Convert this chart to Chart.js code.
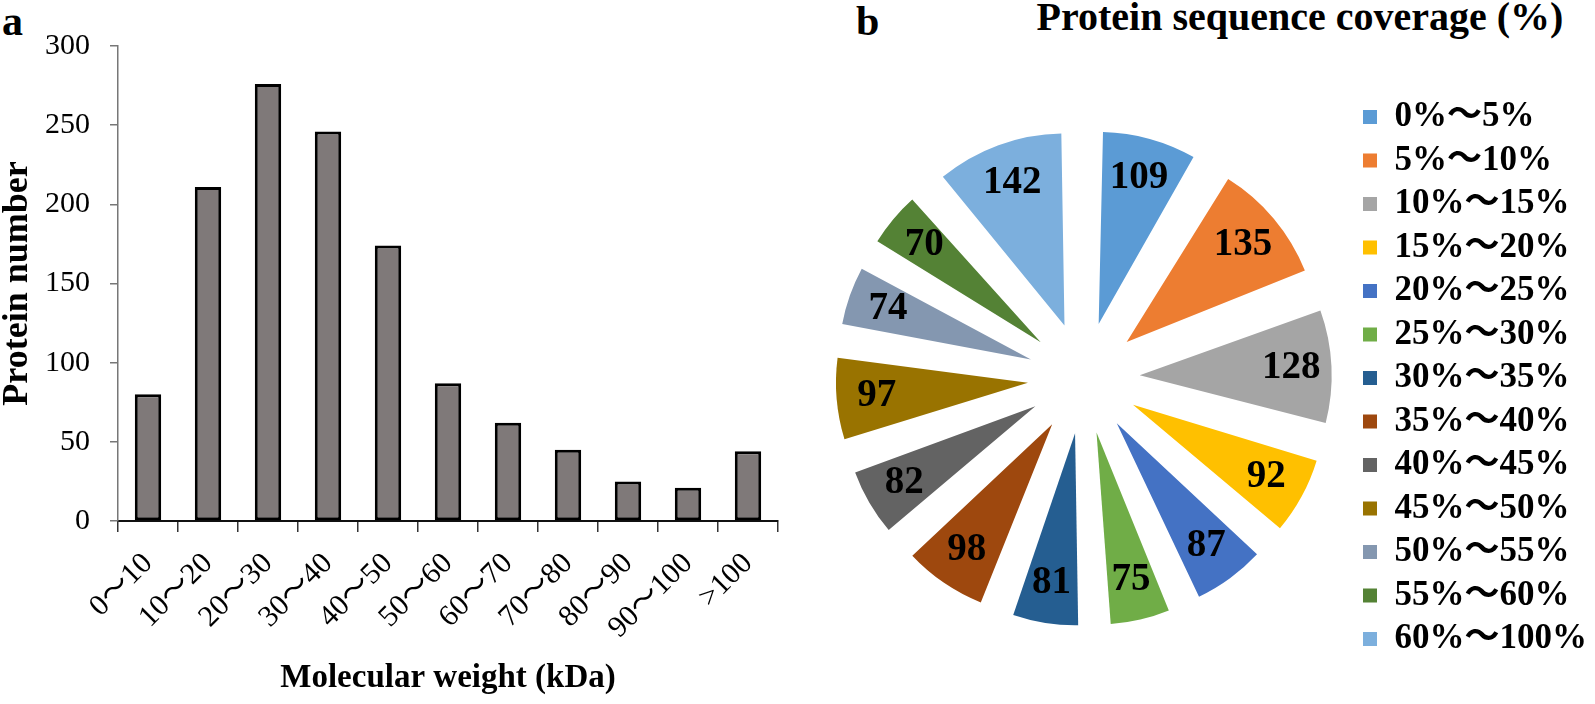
<!DOCTYPE html>
<html>
<head>
<meta charset="utf-8">
<script src="https://cdn.jsdelivr.net/npm/chart.js@4.4.1/dist/chart.umd.min.js"></script>
<style>
  html, body { margin:0; padding:0; background:#fff; overflow:hidden; }
  body { width:1595px; height:704px; position:relative; font-family:"Liberation Serif","Noto Sans CJK SC",serif; color:#000; }
  .tag { position:absolute; top:0; font-weight:bold; font-size:42px; line-height:1; }
  #bar { position:absolute; left:0; top:0; }
  #pie { position:absolute; left:800px; top:0; }
  #pieTitle { position:absolute; left:1000px; width:600px; top:-3px; text-align:center; font-size:40px; font-weight:bold; line-height:1; white-space:nowrap; }
</style>
</head>
<body>
<div class="tag" style="left:2px">a</div>
<div class="tag" style="left:856px">b</div>
<div id="pieTitle">Protein sequence coverage (%)</div>
<canvas id="bar" width="800" height="704"></canvas>
<canvas id="pie" width="797" height="704"></canvas>
<script>
const serif = "'Liberation Serif', 'Noto Sans CJK SC', serif";

// panel a: molecular weight distribution
const mwLabels = ['0～10', '10～20', '20～30', '30～40', '40～50', '50～60', '60～70', '70～80', '80～90', '90～100', '>100'];
const proteinCounts = [80, 211, 276, 246, 174, 87, 62, 45, 25, 21, 44];

// panel b: sequence coverage
const coverageLabels = ['0%～5%', '5%～10%', '10%～15%', '15%～20%', '20%～25%', '25%～30%', '30%～35%',
  '35%～40%', '40%～45%', '45%～50%', '50%～55%', '55%～60%', '60%～100%'];
const coverageCounts = [109, 135, 128, 92, 87, 75, 81, 98, 82, 97, 74, 70, 142];
const coverageColors = ['#5b9bd5', '#ed7d31', '#a5a5a5', '#ffc000', '#4472c4', '#70ad47', '#255e91',
  '#9e480e', '#636363', '#997300', '#8497b0', '#548235', '#7cafdd'];

new Chart(document.getElementById('bar'), {
  type: 'bar',
  data: {
    labels: mwLabels,
    datasets: [{
      data: proteinCounts,
      backgroundColor: '#7f7979',
      borderColor: '#000',
      borderWidth: 3,
      borderSkipped: false,
      barPercentage: 0.44,
      categoryPercentage: 1
    }]
  },
  options: {
    responsive: false,
    animation: false,
    layout: { padding: { top: 46, right: 22, left: 0, bottom: 0 } },
    plugins: { legend: { display: false }, tooltip: { enabled: false } },
    scales: {
      x: {
        grid: { drawOnChartArea: false, tickLength: 11, color: '#333', lineWidth: 1.5, offset: true },
        border: { color: '#111', width: 2 },
        ticks: { color: '#000', font: { family: serif, size: 30 }, minRotation: 45, maxRotation: 45, autoSkip: false, padding: 14 },
        title: { display: true, text: 'Molecular weight (kDa)', color: '#000',
                 font: { family: serif, size: 33, weight: 'bold' }, padding: { top: 4, bottom: 6 } },
        afterFit: s => { s.height = 183; }
      },
      y: {
        min: 0, max: 300,
        ticks: { stepSize: 50, color: '#000', font: { family: serif, size: 30 }, padding: 20 },
        grid: { drawOnChartArea: false, tickLength: 8, color: '#777', lineWidth: 1.5 },
        border: { color: '#777', width: 1.5 },
        title: { display: true, text: 'Protein number', color: '#000',
                 font: { family: serif, size: 36, weight: 'bold', lineHeight: 1 }, padding: { top: 0, bottom: 0 } },
        afterFit: s => { s.width = 118; }
      }
    }
  }
});

// exploded pie: every slice pushed out by the same distance, radius kept equal
const explode = 56;
const pieRadius = 192;

const pieFix = {
  id: 'pieFix',
  beforeDatasetsDraw(chart) {
    chart.getDatasetMeta(0).data.forEach(arc => {
      const fix = 1 - Math.sin(Math.min(Math.PI, arc.circumference));
      arc.outerRadius = pieRadius - explode * fix;
    });
  },
  afterDatasetsDraw(chart) {
    const ctx = chart.ctx;
    const data = chart.data.datasets[0].data;
    ctx.save();
    ctx.font = "bold 39px " + serif;
    ctx.fillStyle = '#000';
    ctx.textAlign = 'center';
    ctx.textBaseline = 'middle';
    chart.getDatasetMeta(0).data.forEach((arc, i) => {
      const mid = (arc.startAngle + arc.endAngle) / 2;
      const d = explode + pieRadius * 0.79;
      ctx.fillText(data[i], arc.x + Math.cos(mid) * d, arc.y + Math.sin(mid) * d);
    });
    ctx.restore();
  }
};

new Chart(document.getElementById('pie'), {
  type: 'pie',
  data: {
    labels: coverageLabels,
    datasets: [{
      data: coverageCounts,
      backgroundColor: coverageColors,
      borderWidth: 0,
      offset: explode * 4,
      hoverOffset: explode * 4,
      radius: pieRadius
    }]
  },
  options: {
    responsive: false,
    animation: false,
    layout: { padding: { top: 52, left: 13, right: 0, bottom: 0 } },
    plugins: {
      tooltip: { enabled: false },
      legend: {
        position: 'right',
        labels: { boxWidth: 14, boxHeight: 14, padding: 8.5, color: '#000',
                  font: { family: serif, size: 35, weight: 'bold' } }
      }
    }
  },
  plugins: [pieFix]
});
</script>
</body>
</html>
